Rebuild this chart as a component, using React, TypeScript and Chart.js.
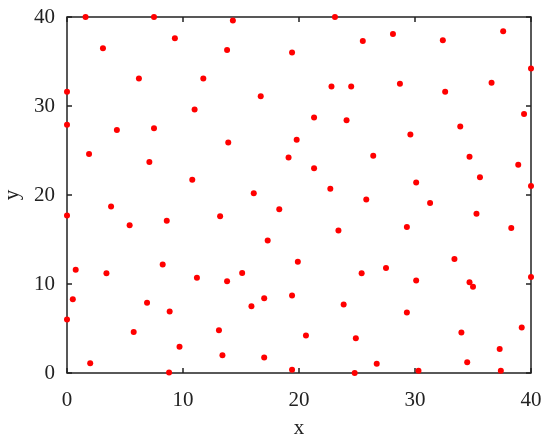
import { useEffect, useRef } from 'react';
import { Chart, registerables } from 'chart.js';

Chart.register(...registerables);

const xValues = [
  1.6, 7.5, 14.3, 3.1, 9.3, 13.8, 0, 6.2, 11.75, 16.7, 11.0, 0, 4.3, 7.5, 13.9, 1.9, 7.1, 10.8, 16.1,
  23.1, 19.4, 25.5, 28.1, 32.4, 37.6, 40.0, 22.8, 24.5, 28.7, 32.6, 36.6, 39.4, 21.3, 24.1, 33.9, 29.6,
  19.8, 19.1, 26.4, 34.7, 21.3, 38.9, 35.6, 30.1, 40.0, 22.7, 25.8, 31.3,
  0, 3.8, 5.4, 8.6, 13.2, 18.3, 17.3, 0.75, 3.4, 8.25, 11.2, 13.8, 15.1, 0.5, 6.9, 8.85, 17.0, 15.9,
  0, 5.75, 13.1, 9.7, 13.4, 17.0, 2.0, 8.8,
  23.4, 29.3, 35.3, 38.3, 19.9, 25.4, 27.5, 30.1, 33.4, 34.7, 35.0, 40.0, 19.4, 23.85, 29.3, 20.6,
  24.9, 34.0, 39.2, 37.3, 26.7, 34.5, 19.4, 24.8, 30.3, 37.4,
];
const yValues = [
  40, 40, 39.6, 36.5, 37.6, 36.3, 31.6, 33.1, 33.1, 31.1, 29.6, 27.9, 27.3, 27.5, 25.9, 24.6, 23.7, 21.7, 20.2,
  40, 36.0, 37.3, 38.1, 37.4, 38.4, 34.2, 32.2, 32.2, 32.5, 31.6, 32.6, 29.1, 28.7, 28.4, 27.7, 26.8,
  26.2, 24.2, 24.4, 24.3, 23.0, 23.4, 22.0, 21.4, 21.0, 20.7, 19.5, 19.1,
  17.7, 18.7, 16.6, 17.1, 17.6, 18.4, 14.9, 11.6, 11.2, 12.2, 10.7, 10.3, 11.25, 8.3, 7.9, 6.9, 8.4, 7.5,
  6.0, 4.6, 4.8, 2.95, 2.0, 1.75, 1.1, 0.05,
  16.0, 16.4, 17.9, 16.3, 12.5, 11.2, 11.8, 10.4, 12.8, 10.2, 9.7, 10.8, 8.7, 7.7, 6.8, 4.2,
  3.9, 4.55, 5.1, 2.7, 1.05, 1.2, 0.37, 0, 0.26, 0.26,
];
const xTicks = [0, 10, 20, 30, 40];
const yTicks = [0, 10, 20, 30, 40];
const xLabel = 'x';
const yLabel = 'y';

const FONT = 'Liberation Serif';
const INK = '#222222';

const framePlugin = {
  id: 'frame',
  beforeDatasetsDraw(chart: any) {
    const { ctx, chartArea, scales } = chart;
    const { left, right, top, bottom } = chartArea;
    const xs = scales.x;
    const ys = scales.y;
    const tl = 5;
    ctx.save();
    ctx.strokeStyle = INK;
    ctx.lineWidth = 1.5;
    ctx.strokeRect(left, top, right - left, bottom - top);
    ctx.beginPath();
    for (const v of xTicks) {
      const px = xs.getPixelForValue(v);
      ctx.moveTo(px, bottom);
      ctx.lineTo(px, bottom - tl);
      ctx.moveTo(px, top);
      ctx.lineTo(px, top + tl);
    }
    for (const v of yTicks) {
      const py = ys.getPixelForValue(v);
      ctx.moveTo(left, py);
      ctx.lineTo(left + tl, py);
      ctx.moveTo(right, py);
      ctx.lineTo(right - tl, py);
    }
    ctx.stroke();
    ctx.restore();
  },
};

export default function App() {
  const ref = useRef<HTMLCanvasElement | null>(null);

  useEffect(() => {
    document.body.style.margin = '0';
    const canvas = ref.current;
    if (!canvas) return;
    const data = xValues.map((x, i) => ({ x, y: yValues[i] }));
    const chart = new Chart(canvas, {
      type: 'scatter',
      data: {
        datasets: [
          {
            data,
            backgroundColor: '#ff0000',
            borderColor: '#ff0000',
            borderWidth: 0,
            pointRadius: 3,
            pointHoverRadius: 3,
            clip: false,
          } as any,
        ],
      },
      options: {
        animation: false,
        responsive: false,
        maintainAspectRatio: false,
        devicePixelRatio: 1,
        layout: { padding: { left: 0, right: 19, top: 17, bottom: 0 } },
        plugins: { legend: { display: false }, tooltip: { enabled: false } },
        scales: {
          x: {
            type: 'linear',
            min: 0,
            max: 40,
            afterBuildTicks: (s: any) => {
              s.ticks = xTicks.map((v) => ({ value: v }));
            },
            afterFit: (s: any) => {
              s.height = 68;
              s.paddingLeft = 0;
              s.paddingRight = 0;
              s.paddingTop = 0;
              s.paddingBottom = 0;
            },
            ticks: { font: { family: FONT, size: 21 }, color: INK, padding: 15, maxRotation: 0 },
            grid: { display: false, drawTicks: false },
            border: { display: false },
            title: { display: true, text: xLabel, font: { family: FONT, size: 21 }, color: INK, padding: 0 },
          },
          y: {
            type: 'linear',
            min: 0,
            max: 40,
            afterBuildTicks: (s: any) => {
              s.ticks = yTicks.map((v) => ({ value: v }));
            },
            afterFit: (s: any) => {
              s.width = 67;
              s.paddingLeft = 0;
              s.paddingRight = 0;
              s.paddingTop = 0;
              s.paddingBottom = 0;
            },
            ticks: { font: { family: FONT, size: 21 }, color: INK, padding: 12 },
            grid: { display: false, drawTicks: false },
            border: { display: false },
            title: { display: true, text: yLabel, font: { family: FONT, size: 21 }, color: INK, padding: 0 },
          },
        },
      },
      plugins: [framePlugin],
    });
    return () => chart.destroy();
  }, []);

  return <canvas ref={ref} width={550} height={441} style={{ display: 'block', width: 550, height: 441 }} />;
}
